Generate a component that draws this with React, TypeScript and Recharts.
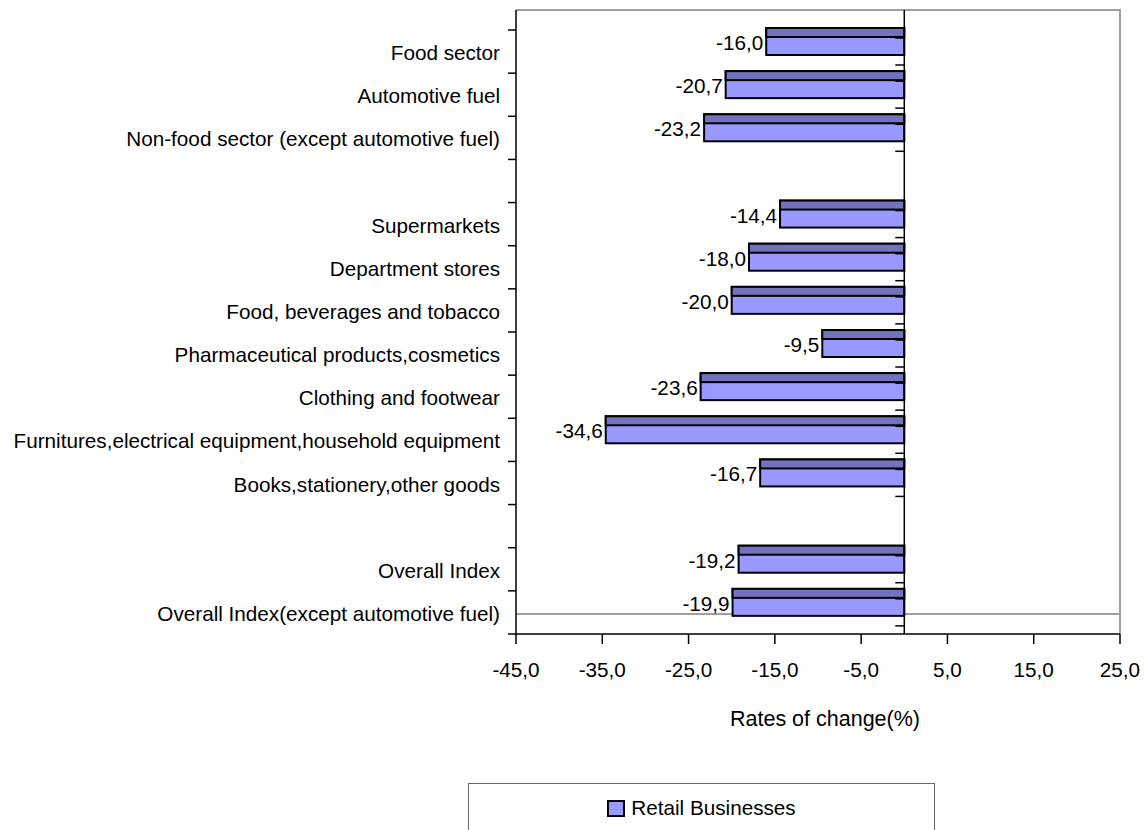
import React from 'react';
import { BarChart, Bar, XAxis, YAxis, ReferenceLine, ReferenceArea, Legend, LabelList } from 'recharts';

const categories = [
  'Food sector',
  'Automotive fuel',
  'Non-food sector (except automotive fuel)',
  '',
  'Supermarkets',
  'Department stores',
  'Food, beverages and tobacco',
  'Pharmaceutical products,cosmetics',
  'Clothing and footwear',
  'Furnitures,electrical equipment,household equipment',
  'Books,stationery,other goods',
  '',
  'Overall Index',
  'Overall Index(except automotive fuel)',
];
const retailValues: (number | null)[] = [
  -16.0, -20.7, -23.2, null, -14.4, -18.0, -20.0, -9.5, -23.6, -34.6, -16.7, null, -19.2, -19.9,
];
const xTicks = [-45, -35, -25, -15, -5, 5, 15, 25];
const seriesName = 'Retail Businesses';
const axisTitle = 'Rates of change(%)';

const data = categories.map((name, i) => ({ name, value: retailValues[i] }));

const FONT = "'Liberation Sans', Arial, sans-serif";
const FS = 20.7;
const W = 1140;
const H = 822;
const MARGIN = { top: 2, right: 28, left: 0, bottom: 86 };
const Y_AXIS_W = 508;
const X_AXIS_H = 110;
const PAD_TOP = 20;
const FLOOR = 20;
const BAR_SIZE = 27;
const SHIFT = 10;
const TOP_FACE = 9;
const LIGHT = '#9999ff';
const DARK = '#7272bd';
const PLOT_H = H - MARGIN.top - MARGIN.bottom - X_AXIS_H - PAD_TOP;
const BAND_HALF = PLOT_H / categories.length / 2;

const fmt = (v: number) => v.toFixed(1).replace('.', ',');

const CategoryTick = (props: any) => {
  const { x, y, payload, index } = props;
  const half = typeof payload?.offset === 'number' && payload.offset > 0 ? payload.offset : BAND_HALF;
  const axisX = x + 16;
  return (
    <g>
      <text x={x} y={y + 1} textAnchor="end" dominantBaseline="central" fontSize={FS} fill="#000" fontFamily={FONT}>
        {payload.value}
      </text>
      <line x1={axisX - 8} x2={axisX} y1={y - half} y2={y - half} stroke="#000" strokeWidth={1.5} />
      {index === categories.length - 1 && (
        <line x1={axisX - 8} x2={axisX} y1={y + half} y2={y + half} stroke="#000" strokeWidth={1.5} />
      )}
    </g>
  );
};

const Bar3D = (props: any) => {
  const { x, y, width, height, background } = props;
  if (width == null || height == null || !isFinite(width) || Math.abs(width) < 0.01) return null;
  const left = Math.min(x, x + width);
  const w = Math.abs(width);
  const zeroX = Math.max(x, x + width);
  const top = y - SHIFT;
  let bandTop = y + height / 2 - BAND_HALF;
  let bandH = BAND_HALF * 2;
  if (background && typeof background.y === 'number' && background.height > 0) {
    bandTop = background.y;
    bandH = background.height;
  }
  return (
    <g>
      <rect x={left} y={top} width={w} height={height} fill={LIGHT} stroke="#000" strokeWidth={2} />
      <rect x={left} y={top} width={w} height={TOP_FACE} fill={DARK} stroke="#000" strokeWidth={2} />
      <line x1={zeroX - 9} x2={zeroX} y1={bandTop} y2={bandTop} stroke="#000" strokeWidth={1.5} />
      <line x1={zeroX - 9} x2={zeroX} y1={bandTop + bandH} y2={bandTop + bandH} stroke="#000" strokeWidth={1.5} />
    </g>
  );
};

const ValueLabel = (props: any) => {
  const { x, y, width, height, value } = props;
  if (value == null) return null;
  const left = Math.min(x, x + width);
  return (
    <text
      x={left - 3}
      y={y - SHIFT + height / 2 + 1}
      textAnchor="end"
      dominantBaseline="central"
      fontSize={FS}
      fill="#000"
      fontFamily={FONT}
    >
      {fmt(value)}
    </text>
  );
};

const Frame = (props: any) => {
  const { x, y, width, height } = props;
  const top = y - PAD_TOP;
  return (
    <g fill="none" stroke="#a0a0a0" strokeWidth={2}>
      <path d={`M${x},${top} H${x + width} V${y + height}`} />
      <line x1={x} x2={x + width} y1={y + height - FLOOR} y2={y + height - FLOOR} />
    </g>
  );
};

const AxisTitle = (props: any) => {
  const vb = props.viewBox || {};
  return (
    <text
      x={vb.x + vb.width / 2 + 7}
      y={vb.y + 85}
      textAnchor="middle"
      dominantBaseline="central"
      fontSize={21.5}
      fill="#000"
      fontFamily={FONT}
    >
      {axisTitle}
    </text>
  );
};

const LegendBox = () => (
  <div
    style={{
      width: '100%',
      height: '100%',
      boxSizing: 'border-box',
      borderTop: '1.5px solid #666',
      borderLeft: '1.5px solid #666',
      borderRight: '1.5px solid #666',
      display: 'flex',
      justifyContent: 'center',
      paddingTop: 15,
      fontFamily: FONT,
      fontSize: FS,
      color: '#000',
    }}
  >
    <div style={{ display: 'flex', alignItems: 'center', height: 18 }}>
      <span
        style={{
          display: 'inline-block',
          width: 14,
          height: 13,
          background: LIGHT,
          border: '2px solid #000',
          marginRight: 6,
        }}
      />
      <span>{seriesName}</span>
    </div>
  </div>
);

export default function App() {
  return (
    <div style={{ width: W, height: H, fontFamily: FONT, position: 'relative' }}>
      <BarChart
        width={W}
        height={H}
        data={data}
        layout="vertical"
        margin={MARGIN}
        style={{ fontFamily: FONT }}
      >
        <ReferenceArea x1={-45} x2={25} shape={<Frame />} ifOverflow="visible" />
        <XAxis
          type="number"
          domain={[-45, 25]}
          ticks={xTicks}
          allowDataOverflow
          height={X_AXIS_H}
          tickFormatter={fmt}
          tickSize={10}
          tickMargin={18}
          tick={{ fill: '#000', fontSize: FS, fontFamily: FONT }}
          tickLine={{ stroke: '#000', strokeWidth: 1.5 }}
          axisLine={{ stroke: '#000', strokeWidth: 1.5 }}
          label={<AxisTitle />}
        />
        <YAxis
          type="category"
          dataKey="name"
          width={Y_AXIS_W}
          interval={0}
          padding={{ top: PAD_TOP, bottom: 0 }}
          tickSize={8}
          tickMargin={8}
          tickLine={false}
          axisLine={{ stroke: '#000', strokeWidth: 1.5 }}
          tick={(p: any) => <CategoryTick {...p} />}
        />
        <Bar
          dataKey="value"
          name={seriesName}
          barSize={BAR_SIZE}
          fill={LIGHT}
          shape={<Bar3D />}
          isAnimationActive={false}
        >
          <LabelList dataKey="value" content={<ValueLabel />} />
        </Bar>
        <ReferenceLine x={0} stroke="#000" strokeWidth={1.5} />
        <Legend
          layout="horizontal"
          verticalAlign="middle"
          align="center"
          content={() => <LegendBox />}
          wrapperStyle={{ left: 460, top: 775, width: 467, height: 47 }}
        />
      </BarChart>
    </div>
  );
}
